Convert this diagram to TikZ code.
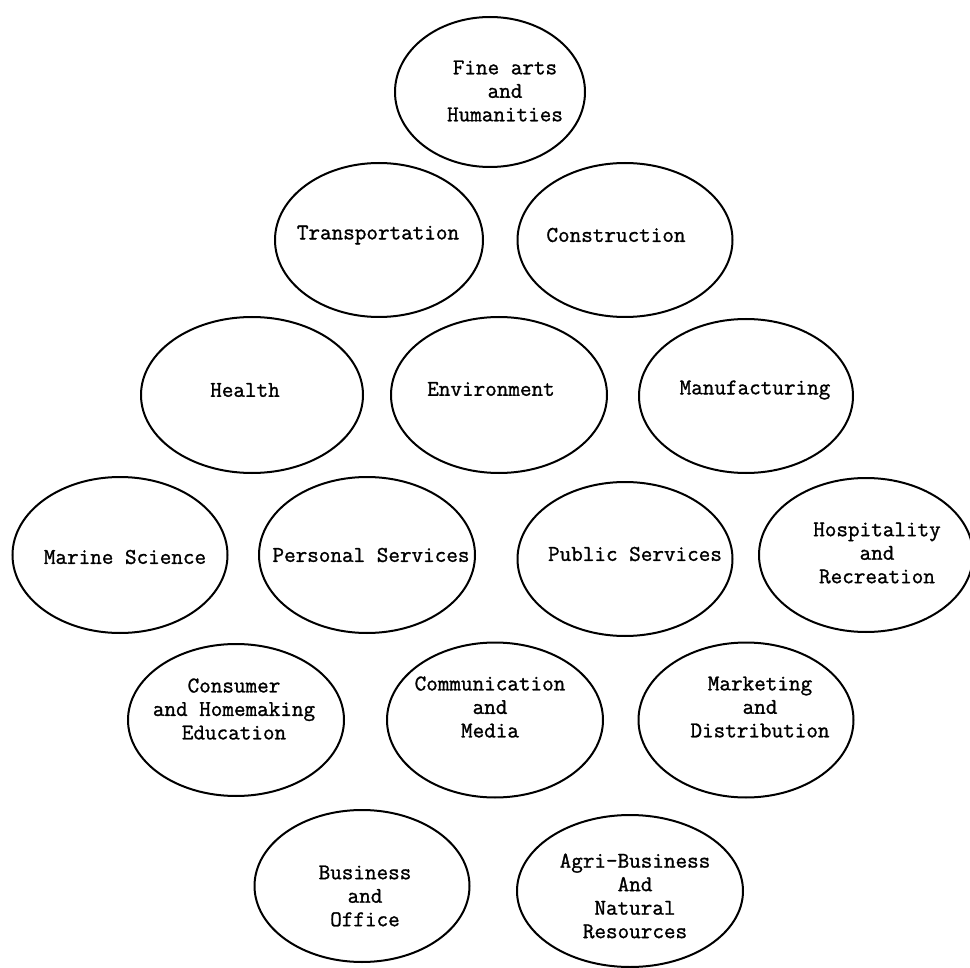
\documentclass[tikz,border=0pt]{standalone}
\usepackage{fontspec}
\newfontfamily\twfont[FakeBold=1.2]{Latin Modern Mono}
\usetikzlibrary{shapes.geometric}
\tikzset{
  oval/.style={draw, ellipse, line width=2pt, inner sep=0pt},
  lbl/.style={align=center, font=\twfont\fontsize{22.5}{23.5}\selectfont, inner sep=0pt}
}
\begin{document}
\begin{tikzpicture}[x=1pt,y=-1pt]
\useasboundingbox (0,0) rectangle (970,968);
% row 1
\node[oval, minimum width=190pt, minimum height=150pt] (fine) at (490,92) {};
\node[lbl] (fineT) at (505,91) {Fine arts\\and\\Humanities};
% row 2
\node[oval, minimum width=208pt, minimum height=154pt] (trans) at (379,240) {};
\node[lbl] (transT) at (378,235) {Transportation};
\node[oval, minimum width=215pt, minimum height=154pt] (constr) at (625,240) {};
\node[lbl] (constrT) at (616,235) {Construction};
% row 3
\node[oval, minimum width=222pt, minimum height=156pt] (health) at (252,395) {};
\node[lbl] (healthT) at (245,390) {Health};
\node[oval, minimum width=216pt, minimum height=156pt] (env) at (499,395) {};
\node[lbl] (envT) at (491,389) {Environment};
\node[oval, minimum width=214pt, minimum height=154pt] (manuf) at (746,396) {};
\node[lbl] (manufT) at (755,390) {Manufacturing};
% row 4
\node[oval, minimum width=215pt, minimum height=156pt] (marine) at (120,555) {};
\node[lbl] (marineT) at (125,557) {Marine Science};
\node[oval, minimum width=216pt, minimum height=156pt] (personal) at (367,555) {};
\node[lbl] (personalT) at (371,555) {Personal Services};
\node[oval, minimum width=215pt, minimum height=154pt] (public) at (625,559) {};
\node[lbl] (publicT) at (635,554) {Public Services};
\node[oval, minimum width=214pt, minimum height=154pt] (hosp) at (866,555) {};
\node[lbl] (hospT) at (877,553) {Hospitality\\and\\Recreation};
% row 5
\node[oval, minimum width=216pt, minimum height=152pt] (consumer) at (236,720) {};
\node[lbl] (consT) at (234,709) {Consumer\\and Homemaking\\Education};
\node[oval, minimum width=216pt, minimum height=155pt] (comm) at (495,720) {};
\node[lbl] (commT) at (490,707) {Communication\\and\\Media};
\node[oval, minimum width=215pt, minimum height=155pt] (market) at (746,720) {};
\node[lbl] (marketT) at (760,707) {Marketing\\and\\Distribution};
% row 6
\node[oval, minimum width=215pt, minimum height=152pt] (business) at (362,886) {};
\node[lbl] (busT) at (365,896) {Business\\and\\Office};
\node[oval, minimum width=226pt, minimum height=152pt] (agri) at (630,891) {};
\node[lbl] (agriT) at (635,896) {Agri-Business\\And\\Natural\\Resources};
\end{tikzpicture}
\end{document}
